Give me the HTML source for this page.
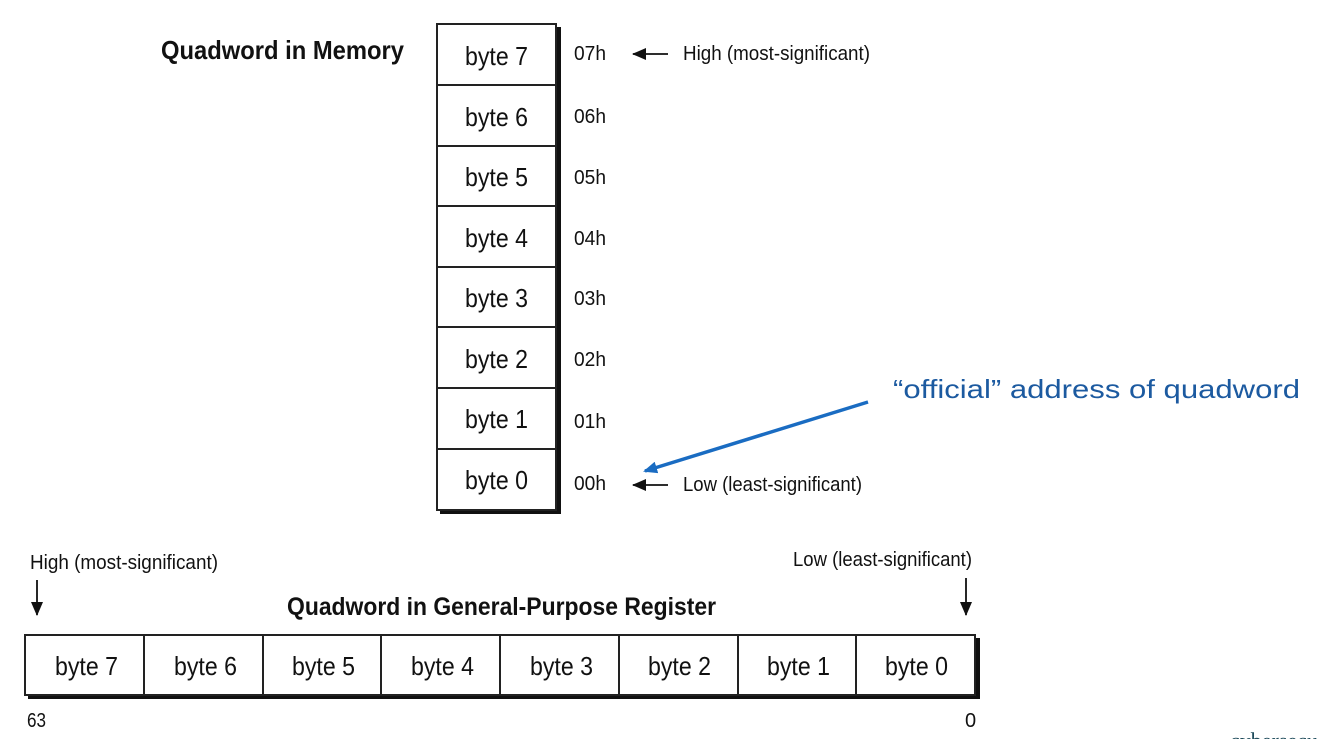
<!DOCTYPE html>
<html><head><meta charset="utf-8"><style>
html,body{margin:0;padding:0;background:#fff;}
svg{display:block;}
text{font-family:"Liberation Sans",sans-serif;fill:#111;}
</style></head><body>
<svg width="1329" height="739" viewBox="0 0 1329 739" xmlns="http://www.w3.org/2000/svg">
<defs>
<marker id="ah" markerWidth="14" markerHeight="12" refX="13" refY="6" orient="auto" markerUnits="userSpaceOnUse"><path d="M0,0 L14,6 L0,12z" fill="#111"/></marker>
<marker id="bh" markerWidth="14" markerHeight="12" refX="12" refY="6" orient="auto" markerUnits="userSpaceOnUse"><path d="M0,0 L14,6 L0,12z" fill="#1a6cc2"/></marker>
</defs>
<text x="161" y="59" font-size="26" font-weight="bold" textLength="243" lengthAdjust="spacingAndGlyphs">Quadword in Memory</text>
<rect x="556" y="27" width="5" height="487" fill="#111"/>
<rect x="440" y="510" width="121" height="4" fill="#111"/>
<g fill="#fff" stroke="#222" stroke-width="2">
<rect x="437" y="24" width="119" height="61"/>
<rect x="437" y="85" width="119" height="61"/>
<rect x="437" y="146" width="119" height="60"/>
<rect x="437" y="206" width="119" height="61"/>
<rect x="437" y="267" width="119" height="60"/>
<rect x="437" y="327" width="119" height="61"/>
<rect x="437" y="388" width="119" height="61"/>
<rect x="437" y="449" width="119" height="61"/>
</g>
<g font-size="26">
<text x="465" y="65" textLength="63" lengthAdjust="spacingAndGlyphs">byte 7</text>
<text x="465" y="126" textLength="63" lengthAdjust="spacingAndGlyphs">byte 6</text>
<text x="465" y="186" textLength="63" lengthAdjust="spacingAndGlyphs">byte 5</text>
<text x="465" y="247" textLength="63" lengthAdjust="spacingAndGlyphs">byte 4</text>
<text x="465" y="307" textLength="63" lengthAdjust="spacingAndGlyphs">byte 3</text>
<text x="465" y="368" textLength="63" lengthAdjust="spacingAndGlyphs">byte 2</text>
<text x="465" y="428" textLength="63" lengthAdjust="spacingAndGlyphs">byte 1</text>
<text x="465" y="489" textLength="63" lengthAdjust="spacingAndGlyphs">byte 0</text>
</g>
<g font-size="20">
<text x="574" y="60" textLength="32" lengthAdjust="spacingAndGlyphs">07h</text>
<text x="574" y="123" textLength="32" lengthAdjust="spacingAndGlyphs">06h</text>
<text x="574" y="184" textLength="32" lengthAdjust="spacingAndGlyphs">05h</text>
<text x="574" y="245" textLength="32" lengthAdjust="spacingAndGlyphs">04h</text>
<text x="574" y="305" textLength="32" lengthAdjust="spacingAndGlyphs">03h</text>
<text x="574" y="366" textLength="32" lengthAdjust="spacingAndGlyphs">02h</text>
<text x="574" y="428" textLength="32" lengthAdjust="spacingAndGlyphs">01h</text>
<text x="574" y="490" textLength="32" lengthAdjust="spacingAndGlyphs">00h</text>
<text x="683" y="60" textLength="187" lengthAdjust="spacingAndGlyphs">High (most-significant)</text>
<text x="683" y="491" textLength="179" lengthAdjust="spacingAndGlyphs">Low (least-significant)</text>
</g>
<line x1="668" y1="54" x2="633" y2="54" stroke="#111" stroke-width="1.8" marker-end="url(#ah)"/>
<line x1="668" y1="485" x2="633" y2="485" stroke="#111" stroke-width="1.8" marker-end="url(#ah)"/>
<line x1="868" y1="402" x2="645" y2="471" stroke="#1a6cc2" stroke-width="3.5" marker-end="url(#bh)"/>
<text x="893" y="398" font-size="26" style="fill:#1c5aa0" textLength="407" lengthAdjust="spacingAndGlyphs">“official” address of quadword</text>
<g font-size="20">
<text x="30" y="569" textLength="188" lengthAdjust="spacingAndGlyphs">High (most-significant)</text>
<text x="793" y="566" textLength="179" lengthAdjust="spacingAndGlyphs">Low (least-significant)</text>
<text x="27" y="727" textLength="19" lengthAdjust="spacingAndGlyphs">63</text>
<text x="965" y="727">0</text>
</g>
<line x1="37" y1="580" x2="37" y2="615" stroke="#111" stroke-width="1.8" marker-end="url(#ah)"/>
<line x1="966" y1="578" x2="966" y2="615" stroke="#111" stroke-width="1.8" marker-end="url(#ah)"/>
<text x="287" y="615" font-size="25" font-weight="bold" textLength="429" lengthAdjust="spacingAndGlyphs">Quadword in General-Purpose Register</text>
<rect x="975" y="638" width="5" height="61" fill="#111"/>
<rect x="28" y="695" width="952" height="4" fill="#111"/>
<rect x="25" y="635" width="950" height="60" fill="#fff" stroke="#222" stroke-width="2"/>
<g stroke="#222" stroke-width="2">
<line x1="144" y1="635" x2="144" y2="695"/>
<line x1="263" y1="635" x2="263" y2="695"/>
<line x1="381" y1="635" x2="381" y2="695"/>
<line x1="500" y1="635" x2="500" y2="695"/>
<line x1="619" y1="635" x2="619" y2="695"/>
<line x1="738" y1="635" x2="738" y2="695"/>
<line x1="856" y1="635" x2="856" y2="695"/>
</g>
<g font-size="26">
<text x="55" y="675" textLength="63" lengthAdjust="spacingAndGlyphs">byte 7</text>
<text x="174" y="675" textLength="63" lengthAdjust="spacingAndGlyphs">byte 6</text>
<text x="292" y="675" textLength="63" lengthAdjust="spacingAndGlyphs">byte 5</text>
<text x="411" y="675" textLength="63" lengthAdjust="spacingAndGlyphs">byte 4</text>
<text x="530" y="675" textLength="63" lengthAdjust="spacingAndGlyphs">byte 3</text>
<text x="648" y="675" textLength="63" lengthAdjust="spacingAndGlyphs">byte 2</text>
<text x="767" y="675" textLength="63" lengthAdjust="spacingAndGlyphs">byte 1</text>
<text x="885" y="675" textLength="63" lengthAdjust="spacingAndGlyphs">byte 0</text>
</g>
<text x="1230" y="748" font-size="22" style="fill:#1d4a5a;font-family:'Liberation Serif',serif">cybersecu</text>
</svg>
</body></html>
